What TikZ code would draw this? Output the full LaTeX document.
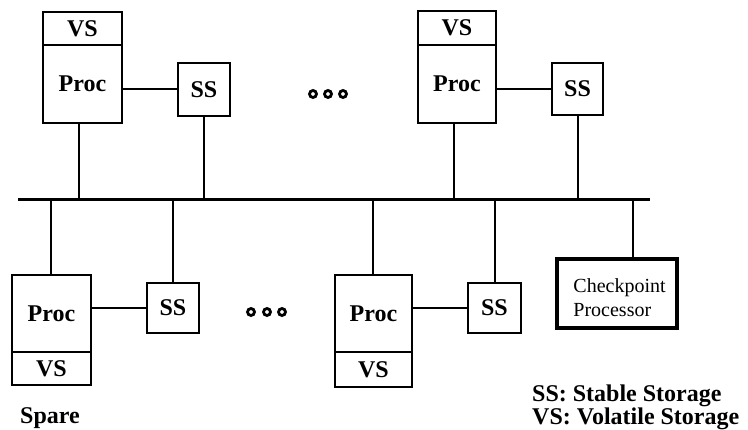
\documentclass[tikz,border=0pt]{standalone}
\usepackage{fontspec}
\setmainfont{Liberation Serif}
\begin{document}
\begin{tikzpicture}[x=1pt,y=-1pt,
  box/.style={draw, line width=2pt, rectangle, inner sep=0pt, font=\fontsize{24}{24}\bfseries\selectfont},
  thickbox/.style={draw, line width=3.5pt, rectangle, inner sep=0pt},
  cptext/.style={inner sep=0pt, anchor=west, align=left, font=\fontsize{20}{24}\selectfont},
  wire/.style={line width=2pt},
  busline/.style={line width=3pt},
  lbl/.style={font=\fontsize{24}{18}\bfseries\selectfont, inner sep=0pt, anchor=west, align=left},
  dotc/.style={circle, draw, line width=2.8pt, minimum size=7pt, inner sep=0pt}]
\useasboundingbox (0,0) rectangle (748,430);

% top-left group
\node[box, minimum width=79pt, minimum height=78pt] (procTL) at (82.5,84) {Proc};
\node[box, minimum width=79pt, minimum height=33pt] (vsTL) at (82.5,28.5) {VS};
\node[box, minimum width=52pt, minimum height=53pt] (ssTL) at (204,89.5) {SS};

% top-right group
\node[box, minimum width=78pt, minimum height=78pt] (procTR) at (457,84) {Proc};
\node[box, minimum width=78pt, minimum height=34pt] (vsTR) at (457,28) {VS};
\node[box, minimum width=51pt, minimum height=52pt] (ssTR) at (577.5,89) {SS};

% bus
\coordinate (busL) at (18,200);
\coordinate (busR) at (650,200);
\draw[busline] (busL) -- (busR);
\coordinate (t1) at (79,200);
\coordinate (t2) at (204,200);
\coordinate (t3) at (454,200);
\coordinate (t4) at (578,200);
\coordinate (b1) at (51,200);
\coordinate (b2) at (173,200);
\coordinate (b3) at (373,200);
\coordinate (b4) at (495,200);
\coordinate (b5) at (633,200);

% bottom-left group
\node[box, minimum width=79pt, minimum height=77pt] (procBL) at (51.5,313.5) {\raisebox{-4pt}{Proc}};
\node[box, minimum width=79pt, minimum height=33pt] (vsBL) at (51.5,368.5) {VS};
\node[box, minimum width=52pt, minimum height=50pt] (ssBL) at (173,308) {SS};

% bottom-right group
\node[box, minimum width=77pt, minimum height=77pt] (procBR) at (373.5,313.5) {\raisebox{-4pt}{Proc}};
\node[box, minimum width=77pt, minimum height=35pt] (vsBR) at (373.5,369.5) {VS};
\node[box, minimum width=53pt, minimum height=50pt] (ssBR) at (494.5,308) {SS};

% checkpoint processor
\node[thickbox, minimum width=120pt, minimum height=69pt] (cp) at (617,293.5) {};
\node[cptext] (cptxt) at ([xshift=18pt,yshift=-4pt]cp.west) {Checkpoint\\Processor};

% connectors
\draw[wire] (procTL.east |- ssTL.west) -- (ssTL.west);
\draw[wire] (procTR.east |- ssTR.west) -- (ssTR.west);
\draw[wire] (procBL.east |- ssBL.west) -- (ssBL.west);
\draw[wire] (procBR.east |- ssBR.west) -- (ssBR.west);
\draw[wire] (procTL.south -| t1) -- (t1);
\draw[wire] (ssTL.south -| t2) -- (t2);
\draw[wire] (procTR.south -| t3) -- (t3);
\draw[wire] (ssTR.south -| t4) -- (t4);
\draw[wire] (b1) -- (procBL.north -| b1);
\draw[wire] (b2) -- (ssBL.north -| b2);
\draw[wire] (b3) -- (procBR.north -| b3);
\draw[wire] (b4) -- (ssBR.north -| b4);
\draw[wire] (b5) -- (cp.north -| b5);

% ellipsis dots
\node[dotc] (d1) at (313,94) {};
\node[dotc] (d2) at (328,94) {};
\node[dotc] (d3) at (343,94) {};
\node[dotc] (d4) at (251,312) {};
\node[dotc] (d5) at (267,312) {};
\node[dotc] (d6) at (282,312) {};

% labels
\node[lbl] (spare) at (20,418) {Spare};
\node[lbl] (legend) at (532,407) {SS: Stable Storage\\VS: Volatile Storage};
\end{tikzpicture}
\end{document}
